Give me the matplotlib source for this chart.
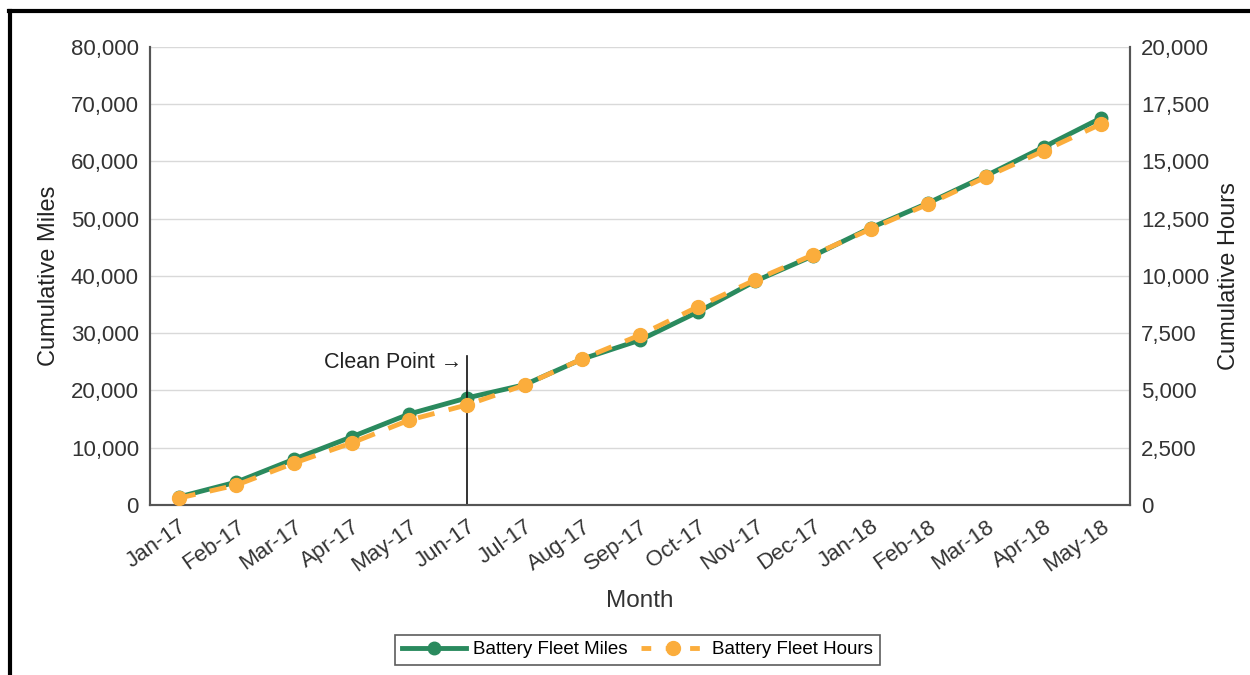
import numpy as np
import matplotlib.pyplot as plt
from matplotlib.ticker import FuncFormatter
from matplotlib.lines import Line2D

plt.rcParams['font.family'] = ['Liberation Sans', 'DejaVu Sans']

months = ["Jan-17", "Feb-17", "Mar-17", "Apr-17", "May-17", "Jun-17", "Jul-17",
          "Aug-17", "Sep-17", "Oct-17", "Nov-17", "Dec-17", "Jan-18", "Feb-18",
          "Mar-18", "Apr-18", "May-18"]
miles = [1400, 4000, 8000, 11900, 15900, 18700, 21000, 25500, 28800, 33700,
         39100, 43500, 48400, 52750, 57500, 62500, 67600]
hours = [300, 870, 1830, 2710, 3710, 4370, 5240, 6380, 7420, 8650,
         9830, 10920, 12050, 13140, 14320, 15460, 16640]
clean_month = "Jun-17"
clean_top = 26000

green = "#2a8a5e"
orange = "#fbad3c"
spine_c = "#555555"
text_c = "#333333"

fig = plt.figure(figsize=(12.5, 6.75), dpi=100)
ax = fig.add_axes([0.12, 0.2519, 0.784, 0.6785])
ax2 = ax.twinx()

x = np.arange(len(months))
ax.plot(x, miles, color=green, lw=3.5, marker="o", ms=9, zorder=3)
ax2.plot(x, hours, color=orange, lw=3.5, ls=(0, (3.5, 3)), marker="o", ms=10, zorder=4)

ax.set_xlim(-0.5, len(months) - 0.5)
ax.set_ylim(0, 80000)
ax2.set_ylim(0, 20000)
ax.set_yticks(np.arange(0, 80001, 10000))
ax2.set_yticks(np.arange(0, 20001, 2500))
fmt = FuncFormatter(lambda v, p: f"{int(v):,}")
ax.yaxis.set_major_formatter(fmt)
ax2.yaxis.set_major_formatter(fmt)
ax.grid(axis="y", color="#d9d9d9", lw=1)
ax.set_axisbelow(True)

ax.set_xticks(x)
ax.set_xticklabels(months, rotation=35, ha="right", rotation_mode="anchor")

for a in (ax, ax2):
    a.spines["top"].set_visible(False)
    for s in ("left", "right", "bottom"):
        a.spines[s].set_color(spine_c)
        a.spines[s].set_linewidth(1.5)
    a.tick_params(length=0, labelsize=16, colors=text_c, pad=8)
ax.tick_params(axis="x", pad=8)

ax.set_xlabel("Month", fontsize=17.5, color=text_c, labelpad=10)
ax.set_ylabel("Cumulative Miles", fontsize=17, color="#222222", labelpad=8)
ax2.set_ylabel("Cumulative Hours", fontsize=17, color="#222222", labelpad=6)

# clean point marker
ci = months.index(clean_month)
ax.plot([ci, ci], [0, clean_top], color="#111111", lw=1.2, zorder=5)
ax.text(ci - 0.08, clean_top - 1200, "Clean Point \u2192", ha="right", va="center",
        fontsize=15.5, color="#222222")

handles = [Line2D([], [], color=green, lw=3.5, marker="o", ms=9),
           Line2D([], [], color=orange, lw=3.5, ls=(0, (2, 3)), marker="o", ms=10)]
leg = fig.legend(handles, ["Battery Fleet Miles", "Battery Fleet Hours"],
                 loc="center", bbox_to_anchor=(0.51, 0.0375), ncol=2,
                 fontsize=13.5, frameon=True, fancybox=False, handlelength=3.4,
                 columnspacing=0.7, handletextpad=0.4, borderpad=0.35)
leg.get_frame().set_edgecolor("#333333")
leg.get_frame().set_linewidth(1.2)

# outer frame (top and left edges only visible)
fig.add_artist(Line2D([0.007, 1.0], [0.984, 0.984], color="black", lw=3,
                      transform=fig.transFigure))
fig.add_artist(Line2D([0.008, 0.008], [0.0, 0.984], color="black", lw=3,
                      transform=fig.transFigure))

fig.savefig("out.png", dpi=100)
